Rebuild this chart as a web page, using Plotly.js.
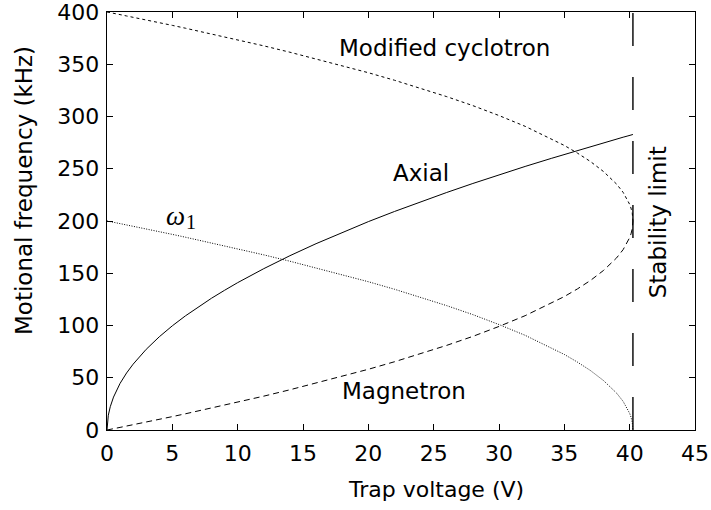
<!DOCTYPE html>
<html>
<head>
<meta charset="utf-8">
<script src="https://cdn.plot.ly/plotly-3.0.1.min.js"></script>
<style>
  html, body { margin: 0; padding: 0; background: #fff; }
  #plot { width: 711px; height: 510px; }
</style>
</head>
<body>
<div id="plot"></div>
<script>
// Trap voltage samples (V)
const voltage = [0, 0.1, 0.25, 0.5, 1, 1.5, 2, 3, 4, 5, 6, 7, 8, 9, 10, 12, 14, 16, 18, 20,
  22, 24, 26, 28, 30, 32, 34, 35, 36, 37, 38, 38.5, 39, 39.5, 39.8, 40, 40.1, 40.2, 40.25];

// Axial frequency (kHz)
const axial = [0, 14.1, 22.3, 31.5, 44.6, 54.6, 63.0, 77.2, 89.2, 99.7, 109.2, 117.9, 126.1, 133.7, 141.0,
  154.4, 166.8, 178.3, 189.1, 199.4, 209.1, 218.4, 227.3, 235.9, 244.2, 252.2, 259.9, 263.7, 267.5,
  271.2, 274.8, 276.6, 278.4, 280.2, 281.2, 282.0, 282.3, 282.7, 282.8];

// Modified cyclotron frequency (kHz)
const cyclotron = [400.0, 399.8, 399.4, 398.8, 397.5, 396.2, 395.0, 392.4, 389.8, 387.2, 384.5, 381.8,
  379.0, 376.2, 373.4, 367.6, 361.5, 355.2, 348.7, 341.9, 334.7, 327.1, 319.0, 310.4, 300.9, 290.6,
  278.8, 272.3, 265.0, 256.9, 247.3, 241.7, 235.3, 227.4, 221.2, 215.9, 212.4, 207.3, 200.0];

// Magnetron frequency (kHz)
const magnetron = [0, 0.2, 0.6, 1.2, 2.5, 3.8, 5.0, 7.6, 10.2, 12.8, 15.5, 18.2, 21.0, 23.8, 26.6,
  32.4, 38.5, 44.8, 51.3, 58.1, 65.3, 72.9, 81.0, 89.6, 99.1, 109.4, 121.2, 127.7, 135.0, 143.1,
  152.7, 158.3, 164.7, 172.6, 178.8, 184.1, 187.6, 192.7, 200.0];

// omega_1 (kHz)
const omega1 = [200.0, 199.8, 199.4, 198.8, 197.5, 196.2, 195.0, 192.4, 189.8, 187.2, 184.5, 181.8,
  179.0, 176.2, 173.4, 167.6, 161.5, 155.2, 148.7, 141.9, 134.7, 127.1, 119.0, 110.4, 100.9, 90.6,
  78.8, 72.3, 65.0, 56.9, 47.3, 41.7, 35.3, 27.4, 21.2, 15.9, 12.4, 7.3, 0.0];

// Stability limit
const stabilityVoltage = 40.25;
const freqRange = [0, 400];

const SANS = 'DejaVu Sans, Arial, sans-serif';
const SERIF = 'Liberation Serif, Times New Roman, serif';

const traces = [
  { x: voltage, y: axial, mode: 'lines', line: { color: '#000', width: 1 } },
  { x: voltage, y: cyclotron, mode: 'lines', line: { color: '#000', width: 1, dash: '3px,3px' } },
  { x: voltage, y: magnetron, mode: 'lines', line: { color: '#000', width: 1, dash: '6px,4px' } },
  { x: voltage, y: omega1, mode: 'lines', line: { color: '#000', width: 1, dash: '1px,1.5px' } },
  { x: [stabilityVoltage, stabilityVoltage], y: freqRange, mode: 'lines', cliponaxis: false,
    line: { color: '#000', width: 1.4, dash: '33px,31px' } }
];

const axisCommon = {
  showgrid: false, zeroline: false, showline: true, mirror: 'ticks',
  linecolor: '#000', linewidth: 1.3, ticks: 'inside', ticklen: 6, tickwidth: 1, tickcolor: '#000',
  ticklabeloverflow: 'allow',
  tickfont: { family: SANS, size: 22, color: '#000' }
};

const labelFont = { family: SANS, size: 23, color: '#000' };

const layout = {
  width: 711, height: 510,
  margin: { l: 107, r: 16, t: 12, b: 80 },
  paper_bgcolor: '#fff', plot_bgcolor: '#fff',
  showlegend: false,
  xaxis: Object.assign({}, axisCommon, {
    range: [0, 45], tick0: 0, dtick: 5, ticklabelstandoff: 3
  }),
  yaxis: Object.assign({}, axisCommon, {
    range: freqRange, tick0: 0, dtick: 50, ticklabelstandoff: 2
  }),
  annotations: [
    // axis titles
    { xref: 'paper', yref: 'paper', x: 0.5595, y: -0.143, xanchor: 'center', yanchor: 'middle',
      text: 'Trap voltage (V)', showarrow: false, font: { family: SANS, size: 22, color: '#000' } },
    { xref: 'paper', yref: 'paper', x: -0.141, y: 0.572, xanchor: 'center', yanchor: 'middle',
      text: 'Motional frequency (kHz)', textangle: -90, showarrow: false,
      font: { family: SANS, size: 23, color: '#000' } },
    // curve labels
    { x: 25.8, y: 365.5, text: 'Modified cyclotron', showarrow: false, font: labelFont },
    { x: 24.0, y: 246, text: 'Axial', showarrow: false, font: labelFont },
    { x: 22.7, y: 37, text: 'Magnetron', showarrow: false, font: labelFont },
    { x: 42.23, y: 198.6, text: 'Stability limit', textangle: -90, showarrow: false, font: labelFont },
    { x: 5.28, y: 205, text: '<i>ω</i>', showarrow: false,
      font: { family: SERIF, size: 27, color: '#000' } },
    { x: 6.4, y: 199.5, text: '1', showarrow: false,
      font: { family: SERIF, size: 20, color: '#000' } }
  ]
};

Plotly.newPlot('plot', traces, layout, { staticPlot: true, displayModeBar: false });
</script>
</body>
</html>
